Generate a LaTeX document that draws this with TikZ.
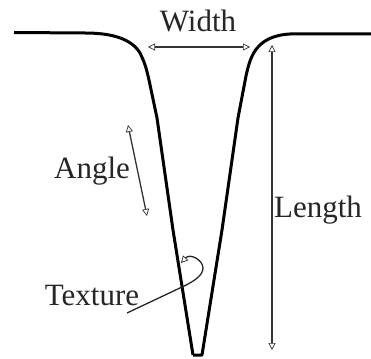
\documentclass[tikz,border=0pt]{standalone}
\usepackage{fontspec}
\setmainfont{Liberation Serif}
\usetikzlibrary{arrows.meta}
\tikzset{
  profile/.style={line width=3pt,black,line join=round},
  opentip/.style={},
  dim/.style={line width=1.3pt,draw=black!80,{Triangle[open,length=7pt,width=7pt,line width=.7pt]}-{Triangle[open,length=7pt,width=7pt,line width=.7pt]}},
  lab/.style={font=\fontsize{31}{31}\selectfont,text=black!85,inner sep=0pt,anchor=base}
}
\begin{document}
\begin{tikzpicture}[x=1pt,y=-1pt]
\useasboundingbox (0,0) rectangle (371,358);
\fill[white] (0,0) rectangle (371,358);
\draw[profile] (14,32.5) -- (85,33) .. controls (110,33) and (131,38) .. (140,53)
  .. controls (146,65) and (147,72) .. (149,80) -- (157,118) -- (173,230) -- (193,355);
\draw[profile] (193,355) -- (202,355) -- (222,230) -- (238,118) -- (246,76)
  .. controls (250,58) and (255,36) .. (290,34) -- (371,34);
\node[lab] (width) at (198,32) {Width};
\node[lab] (length) at (318,217) {Length};
\node[lab] (angle) at (92,178) {Angle};
\node[lab] (texture) at (92,305) {Texture};
\coordinate (wa) at (148,47); \coordinate (wb) at (250,47);
\coordinate (la) at (272,45); \coordinate (lb) at (272,350);
\coordinate (aa) at (128,125); \coordinate (ab) at (147,216);
\coordinate (ta) at (127,313); \coordinate (tb) at (181,263);
\draw[dim] (wa) -- (wb);
\draw[dim] (la) -- (lb);
\draw[dim] (aa) -- (ab);
\draw[line width=1.3pt,draw=black!85,-{Triangle[open,length=7pt,width=7pt,line width=.7pt]}]
  (ta) -- (182,287) .. controls (195,281) and (203,275) .. (203,268)
  .. controls (203,260) and (190,253) .. (tb);
\end{tikzpicture}
\end{document}
